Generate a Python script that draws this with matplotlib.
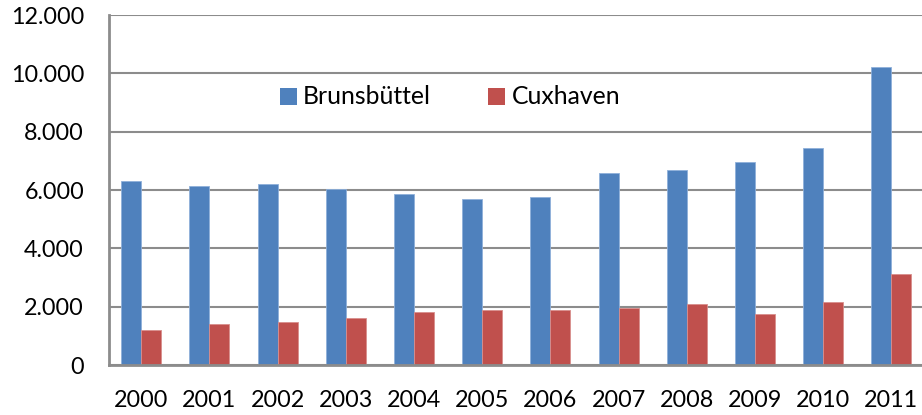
import matplotlib
matplotlib.use("Agg")
import matplotlib.pyplot as plt
from matplotlib.patches import Rectangle
import numpy as np

years = ["2000", "2001", "2002", "2003", "2004", "2005", "2006", "2007", "2008", "2009", "2010", "2011"]
brunsbuettel = [6320, 6130, 6200, 6050, 5850, 5700, 5770, 6590, 6670, 6950, 7430, 10230]
cuxhaven = [1190, 1410, 1460, 1600, 1810, 1870, 1870, 1940, 2080, 1750, 2150, 3110]
yticks = [0, 2000, 4000, 6000, 8000, 10000, 12000]
ytick_labels = ["0", "2.000", "4.000", "6.000", "8.000", "10.000", "12.000"]
series_names = ["Brunsbüttel", "Cuxhaven"]

plt.rcParams['font.family'] = ['Lato', 'DejaVu Sans']

W, H = 922, 415
fig = plt.figure(figsize=(W / 100, H / 100), dpi=100)

spacing = 68.18
ax_left = 109
ax_top = 15
ax_bottom = 365
x_lo = -0.474
x_hi = 11.5
ax_w = (x_hi - x_lo) * spacing
ax = fig.add_axes([ax_left / W, (H - ax_bottom) / H, ax_w / W, (ax_bottom - ax_top) / H])

blue = "#4F81BD"
red = "#C0504D"
grid_c = "#8C8C8C"

x = np.arange(len(years))
bw = 20 / spacing
ax.bar(x - bw / 2, brunsbuettel, width=bw, color=blue, edgecolor="#8FB0DA", linewidth=0.6, zorder=3)
ax.bar(x + bw / 2, cuxhaven, width=bw, color=red, edgecolor="#D88E8C", linewidth=0.6, zorder=3)

ax.set_xlim(x_lo, x_hi)
ax.set_ylim(0, 12000)
ax.set_yticks(yticks)
ax.set_yticklabels(ytick_labels)
ax.set_xticks(x)
ax.set_xticklabels(years)
ax.yaxis.grid(True, color=grid_c, linewidth=1.5, zorder=1)
ax.set_axisbelow(True)
ax.tick_params(axis='both', length=0, labelsize=16.8, colors="black")
ax.tick_params(axis='y', pad=18)
ax.tick_params(axis='x', pad=18)
for s in ["top", "right"]:
    ax.spines[s].set_visible(False)
for s in ["left", "bottom"]:
    ax.spines[s].set_color(grid_c)
    ax.spines[s].set_linewidth(2)
    ax.spines[s].set_zorder(4)

# legend placed manually (in pixel positions)
def px_rect(x0, y0, w, h, color):
    fig.patches.append(Rectangle((x0 / W, 1 - (y0 + h) / H), w / W, h / H,
                                 transform=fig.transFigure, facecolor=color, edgecolor="none"))

px_rect(280, 88, 16.7, 16.7, blue)
fig.text(302.5 / W, 1 - 97 / H, series_names[0], fontsize=17.8, va="center", ha="left")
px_rect(488.3, 88, 16.7, 16.7, red)
fig.text(511.5 / W, 1 - 97 / H, series_names[1], fontsize=17.8, va="center", ha="left")

fig.savefig("out.png", dpi=100)
